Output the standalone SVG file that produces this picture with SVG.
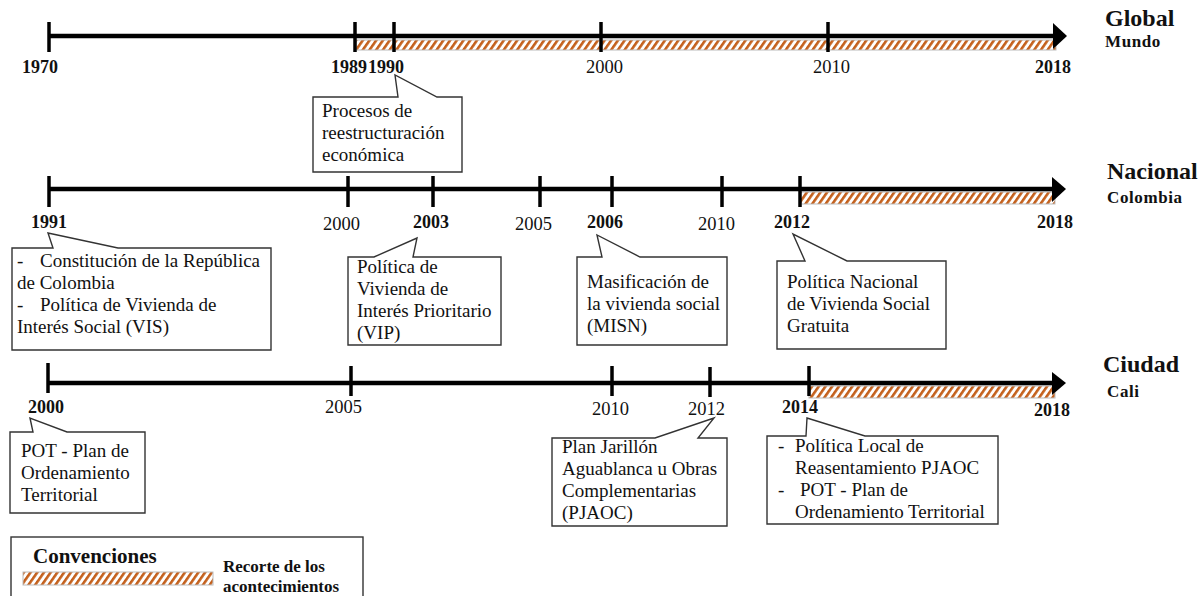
<svg xmlns="http://www.w3.org/2000/svg" width="1203" height="596" viewBox="0 0 1203 596">
<defs>
<pattern id="hatch" patternUnits="userSpaceOnUse" width="5.5" height="5.5" patternTransform="rotate(35)">
<rect width="5.5" height="5.5" fill="#fff"/>
<rect x="0" y="0" width="2.6" height="5.5" fill="#C4601C"/>
</pattern>
<style>
.axis{stroke:#000;stroke-width:4.5;fill:none}
.tick{stroke:#000;stroke-width:3.5}
.arr{fill:#000}
.bar{fill:url(#hatch);stroke:#bbb;stroke-width:1}
.call{fill:#fff;stroke:#333;stroke-width:1.4;stroke-linejoin:miter}
text{font-family:"Liberation Serif","Times New Roman",serif;fill:#111}
.yb{font-size:18px;font-weight:bold}
.yr{font-size:18.5px}
.t{font-size:19px}
.title{font-size:24px;font-weight:bold}
.sub{font-size:17px;font-weight:bold;letter-spacing:0.6px}
</style>
</defs>
<rect width="1203" height="596" fill="#fff"/>

<g id="connectors">
<!-- Global -->
<rect class="bar" x="356" y="40" width="700" height="10"/>
<line class="axis" x1="49" y1="36" x2="1055" y2="36"/>
<polygon class="arr" points="1053,23 1067,36 1053,49"/>
<line class="tick" x1="49" y1="22" x2="49" y2="52"/>
<line class="tick" x1="355" y1="22" x2="355" y2="52"/>
<line class="tick" x1="394" y1="22" x2="394" y2="52"/>
<line class="tick" x1="601" y1="22" x2="601" y2="52"/>
<line class="tick" x1="828" y1="22" x2="828" y2="52"/>
<!-- Nacional -->
<rect class="bar" x="800" y="192" width="255" height="12"/>
<line class="axis" x1="49" y1="189" x2="1054" y2="189"/>
<polygon class="arr" points="1052,177 1066,189 1052,202"/>
<line class="tick" x1="49" y1="176" x2="49" y2="207"/>
<line class="tick" x1="348" y1="176" x2="348" y2="207"/>
<line class="tick" x1="433" y1="176" x2="433" y2="207"/>
<line class="tick" x1="540" y1="176" x2="540" y2="207"/>
<line class="tick" x1="612" y1="176" x2="612" y2="207"/>
<line class="tick" x1="722" y1="176" x2="722" y2="207"/>
<line class="tick" x1="800" y1="176" x2="800" y2="207"/>
<!-- Ciudad -->
<rect class="bar" x="809" y="386" width="246" height="12"/>
<line class="axis" x1="48" y1="383" x2="1054" y2="383"/>
<polygon class="arr" points="1052,372 1066,383 1052,395"/>
<line class="tick" x1="48" y1="363" x2="48" y2="393"/>
<line class="tick" x1="351" y1="366" x2="351" y2="396"/>
<line class="tick" x1="612" y1="366" x2="612" y2="396"/>
<line class="tick" x1="710" y1="367" x2="710" y2="397"/>
<line class="tick" x1="809" y1="366" x2="809" y2="396"/>
</g>

<g id="labels-global">
<text class="title" x="1105" y="26">Global</text>
<text class="sub" x="1105" y="47">Mundo</text>
<text class="yb" x="22" y="73">1970</text>
<text class="yb" x="331" y="73">1989</text>
<text class="yb" x="368" y="73">1990</text>
<text class="yr" x="586" y="73">2000</text>
<text class="yr" x="813" y="73">2010</text>
<text class="yb" x="1035" y="73">2018</text>
</g>

<g id="labels-nacional">
<text class="title" x="1107" y="179">Nacional</text>
<text class="sub" x="1107" y="203">Colombia</text>
<text class="yb" x="31" y="228">1991</text>
<text class="yr" x="323" y="230">2000</text>
<text class="yb" x="413" y="228">2003</text>
<text class="yr" x="515" y="230">2005</text>
<text class="yb" x="587" y="228">2006</text>
<text class="yr" x="698" y="230">2010</text>
<text class="yb" x="774" y="228">2012</text>
<text class="yb" x="1037" y="228">2018</text>
</g>

<g id="labels-ciudad">
<text class="title" x="1103" y="372">Ciudad</text>
<text class="sub" x="1107" y="397">Cali</text>
<text class="yb" x="28" y="413">2000</text>
<text class="yr" x="325" y="413">2005</text>
<text class="yr" x="592" y="415">2010</text>
<text class="yr" x="688" y="415">2012</text>
<text class="yb" x="782" y="413">2014</text>
<text class="yb" x="1034" y="416">2018</text>
</g>

<g id="node-1990">
<path class="call" d="M313,97 L398,97 L395,75 L437,97 L462,97 L462,172 L313,172 Z"/>
<text class="t" x="322" y="117">Procesos de</text>
<text class="t" x="322" y="139">reestructuración</text>
<text class="t" x="322" y="161">económica</text>
</g>

<g id="node-1991">
<path class="call" d="M12,248 L53,248 L48,233 L118,248 L271,248 L271,350 L12,350 Z"/>
<text class="t" x="17" y="267">-</text>
<text class="t" x="40" y="267">Constitución de la República</text>
<text class="t" x="17" y="289">de Colombia</text>
<text class="t" x="17" y="311">-</text>
<text class="t" x="40" y="311">Política de Vivienda de</text>
<text class="t" x="17" y="333">Interés Social (VIS)</text>
</g>

<g id="node-2003">
<path class="call" d="M348,257 L374,257 L417,238 L413,257 L501,257 L501,345 L348,345 Z"/>
<text class="t" x="357" y="273">Política de</text>
<text class="t" x="357" y="295">Vivienda de</text>
<text class="t" x="357" y="317">Interés Prioritario</text>
<text class="t" x="357" y="339">(VIP)</text>
</g>

<g id="node-2006">
<path class="call" d="M577,257 L602,257 L597,235 L640,257 L727,257 L727,345 L577,345 Z"/>
<text class="t" x="587" y="288">Masificación de</text>
<text class="t" x="587" y="310">la vivienda social</text>
<text class="t" x="587" y="332">(MISN)</text>
</g>

<g id="node-2012n">
<path class="call" d="M777,261 L805,261 L793,234 L847,261 L946,261 L946,349 L777,349 Z"/>
<text class="t" x="787" y="288">Política Nacional</text>
<text class="t" x="787" y="310">de Vivienda Social</text>
<text class="t" x="787" y="332">Gratuita</text>
</g>

<g id="node-2000c">
<path class="call" d="M10,432 L33,432 L30,418 L67,432 L145,432 L145,513 L10,513 Z"/>
<text class="t" x="21" y="457">POT - Plan de</text>
<text class="t" x="21" y="479">Ordenamiento</text>
<text class="t" x="21" y="501">Territorial</text>
</g>

<g id="node-2012c">
<path class="call" d="M552,438 L655,438 L714,418 L698,438 L727,438 L727,526 L552,526 Z"/>
<text class="t" x="562" y="453">Plan Jarillón</text>
<text class="t" x="562" y="475">Aguablanca u Obras</text>
<text class="t" x="562" y="497">Complementarias</text>
<text class="t" x="562" y="519">(PJAOC)</text>
</g>

<g id="node-2014">
<path class="call" d="M767,436 L806,436 L807,418 L865,436 L998,436 L998,524 L767,524 Z"/>
<text class="t" x="778" y="452">-</text>
<text class="t" x="795" y="452">Política Local de</text>
<text class="t" x="795" y="474">Reasentamiento PJAOC</text>
<text class="t" x="778" y="496">-</text>
<text class="t" x="800" y="496">POT - Plan de</text>
<text class="t" x="795" y="518">Ordenamiento Territorial</text>
</g>

<g id="legend">
<rect x="11" y="537" width="352" height="70" fill="#fff" stroke="#333" stroke-width="1.4"/>
<text x="33" y="563" font-size="21" font-weight="bold">Convenciones</text>
<rect class="bar" x="23" y="572" width="190" height="13"/>
<text x="223" y="572" font-size="17" font-weight="bold">Recorte de los</text>
<text x="223" y="592" font-size="17" font-weight="bold">acontecimientos</text>
</g>
</svg>
